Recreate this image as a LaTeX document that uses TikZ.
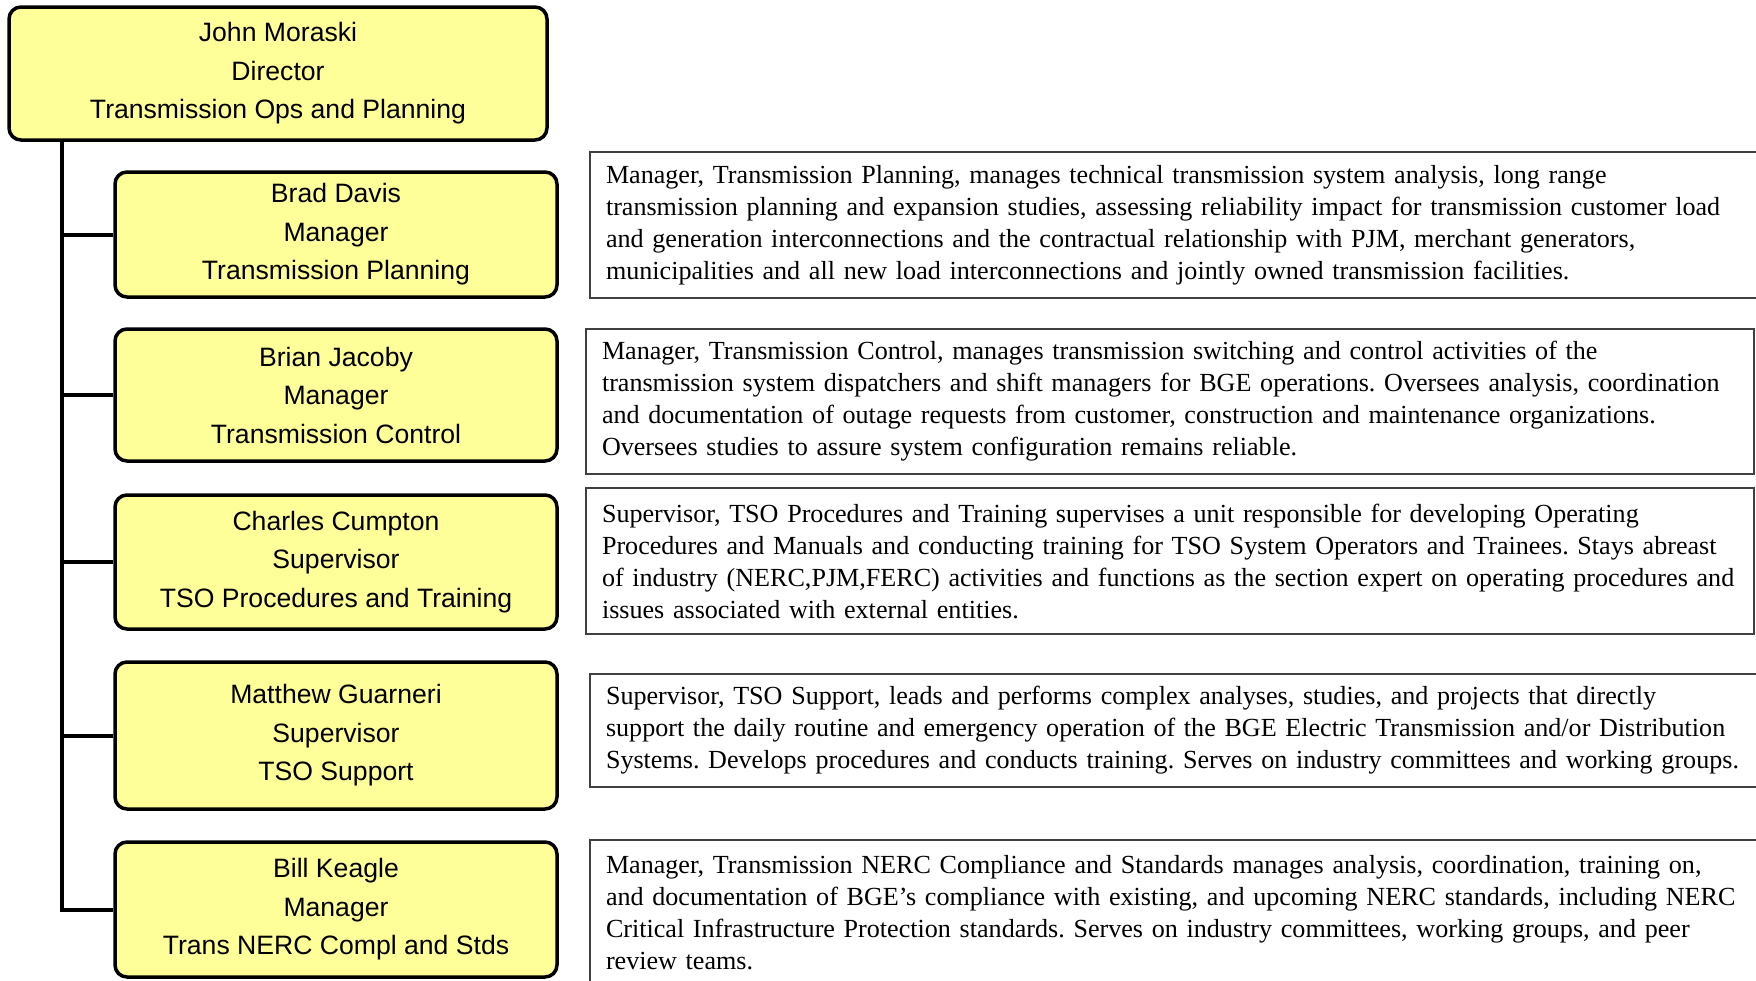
\documentclass[tikz,border=0pt]{standalone}
\usepackage{fontspec}
\setmainfont{Liberation Serif}
\setsansfont{Liberation Sans}
\definecolor{boxyellow}{RGB}{255,255,153}
\frenchspacing

\begin{document}
\begin{tikzpicture}[x=1pt, y=-1pt,
        person/.style={draw=black, line width=3.5pt, rounded corners=12pt, fill=boxyellow,
          minimum width=442pt, align=center, font=\sffamily\fontsize{26.6}{38.5}\selectfont},
        duty/.style={draw=black!75, line width=2pt, anchor=north west, align=left,
          inner xsep=16pt, font=\fontsize{26.1}{32}\selectfont},
        link/.style={-, line width=4pt, black}]
        \clip (0,0) rectangle (1756,980);
        \node[person, minimum width=538pt, minimum height=133pt] (director) at (278,73.5)
          {John Moraski\\Director\\Transmission Ops and Planning};
        \node[person, minimum height=125pt] (brad) at (336,234.5)
          {Brad Davis\\Manager\\Transmission Planning};
        \node[person, minimum height=132pt] (brian) at (336,395)
          {Brian Jacoby\\Manager\\Transmission Control};
        \node[person, minimum height=134pt] (charles) at (336,562)
          {Charles Cumpton\\Supervisor\\TSO Procedures and Training};
        \node[person, minimum height=147pt] (matthew) at (336,735.5)
          {Matthew Guarneri\\Supervisor\\TSO Support};
        \node[person, minimum height=135pt] (bill) at (336,909.5)
          {Bill Keagle\\Manager\\Trans NERC Compl and Stds};
        \node[duty, text width=1160pt, minimum height=146pt] (planning) at (589,151)
          {Manager, Transmission Planning, manages technical transmission system analysis, long range\\
           transmission planning and expansion studies, assessing reliability impact for transmission customer load\\
           and generation interconnections and the contractual relationship with PJM, merchant generators,\\
           municipalities and all new load interconnections and jointly owned transmission facilities.};
        \node[duty, text width=1136pt, minimum height=145pt] (control) at (585,328)
          {Manager, Transmission Control, manages transmission switching and control activities of the\\
           transmission system dispatchers and shift managers for BGE operations. Oversees analysis, coordination\\
           and documentation of outage requests from customer, construction and maintenance organizations.\\
           Oversees studies to assure system configuration remains reliable.};
        \node[duty, text width=1136pt, minimum height=146pt] (training) at (585,487)
          {Supervisor, TSO Procedures and Training supervises a unit responsible for developing Operating\\
           Procedures and Manuals and conducting training for TSO System Operators and Trainees. Stays abreast\\
           of industry (NERC,PJM,FERC) activities and functions as the section expert on operating procedures and\\
           issues associated with external entities.};
        \node[duty, text width=1160pt, minimum height=113pt] (support) at (589,673)
          {Supervisor, TSO Support, leads and performs complex analyses, studies, and projects that directly\\
           support the daily routine and emergency operation of the BGE Electric Transmission and/or Distribution\\
           Systems. Develops procedures and conducts training. Serves on industry committees and working groups.};
        \node[duty, text width=1160pt, minimum height=146pt] (compliance) at (589,839)
          {Manager, Transmission NERC Compliance and Standards manages analysis, coordination, training on,\\
           and documentation of BGE’s compliance with existing, and upcoming NERC standards, including NERC\\
           Critical Infrastructure Protection standards. Serves on industry committees, working groups, and peer\\
           review teams.};
        \coordinate (trunk) at (62,140);
        \draw[link] (director.south -| trunk) |- (bill.west);
        \foreach \n in {brad, brian, charles, matthew} {
          \draw[link] (\n.west) -- (\n.west -| trunk);
        };
      \end{tikzpicture}
\end{document}
